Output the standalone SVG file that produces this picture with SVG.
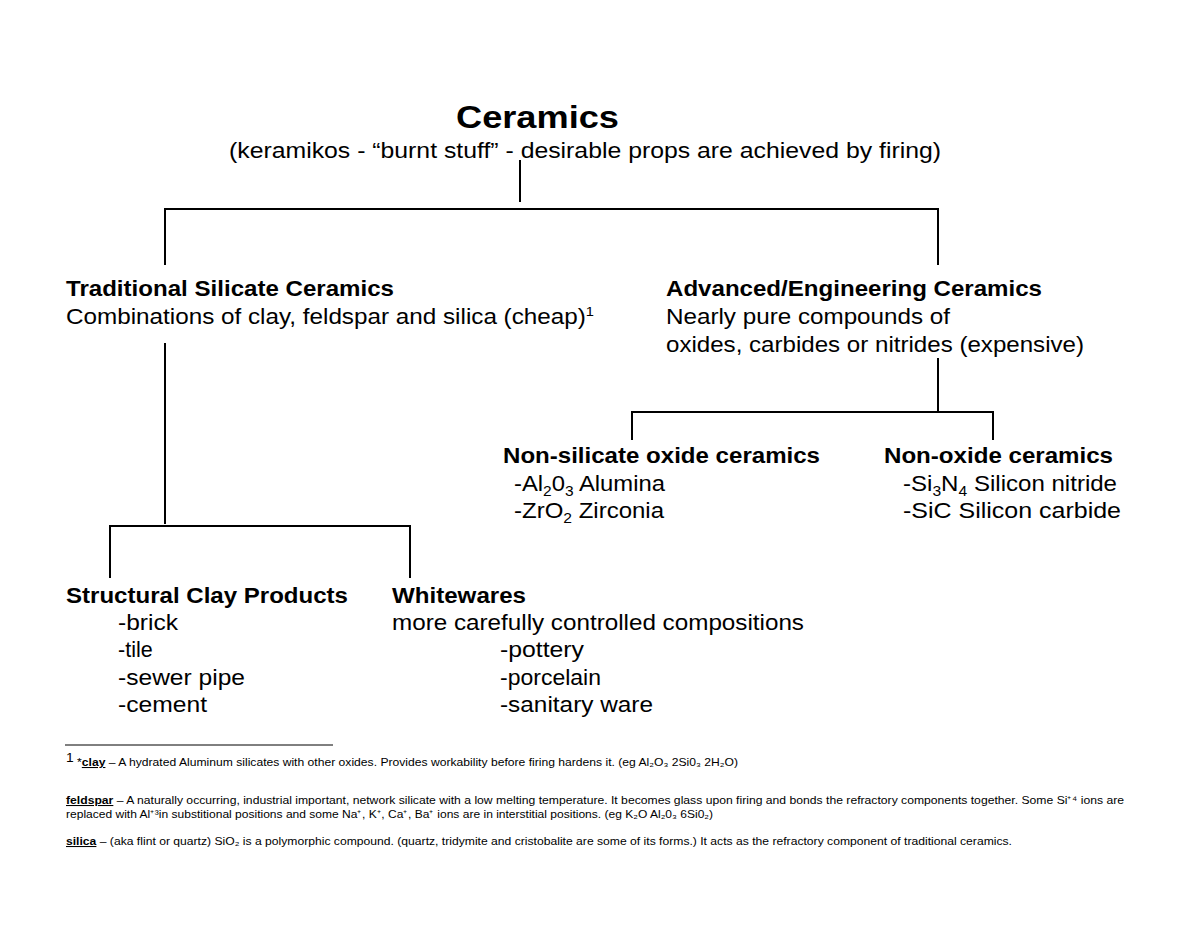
<svg xmlns="http://www.w3.org/2000/svg" width="1200" height="927" viewBox="0 0 1200 927">
<style>
text{font-family:"Liberation Sans",Arial,sans-serif;fill:#000}
.m{font-size:21.5px}
.b{font-weight:bold}
.f{font-size:10.5px}
#connectors line{stroke:#000;stroke-width:2}
</style>
<rect width="1200" height="927" fill="#fff"/>
<g id="connectors">
<line x1="520" y1="160" x2="520" y2="202"/>
<line x1="164" y1="209" x2="939" y2="209"/>
<line x1="165" y1="208" x2="165" y2="265"/>
<line x1="938" y1="208" x2="938" y2="265"/>
<line x1="165" y1="343" x2="165" y2="524"/>
<line x1="109" y1="526" x2="411" y2="526"/>
<line x1="110" y1="525" x2="110" y2="578"/>
<line x1="410" y1="525" x2="410" y2="578"/>
<line x1="938" y1="358" x2="938" y2="412"/>
<line x1="631" y1="412" x2="994" y2="412"/>
<line x1="632" y1="411" x2="632" y2="440"/>
<line x1="993" y1="411" x2="993" y2="440"/>
</g>
<g id="root">
<text x="456" y="128" class="b" font-size="32" textLength="163" lengthAdjust="spacingAndGlyphs">Ceramics</text>
<text x="229" y="158" class="m" textLength="712" lengthAdjust="spacingAndGlyphs">(keramikos - “burnt stuff” - desirable props are achieved by firing)</text>
</g>
<g id="traditional">
<text x="66" y="296" class="m b" textLength="328" lengthAdjust="spacingAndGlyphs">Traditional Silicate Ceramics</text>
<text x="66" y="324" class="m" textLength="528" lengthAdjust="spacingAndGlyphs">Combinations of clay, feldspar and silica (cheap)<tspan font-size="13" dy="-8">1</tspan></text>
</g>
<g id="advanced">
<text x="666" y="296" class="m b" textLength="376" lengthAdjust="spacingAndGlyphs">Advanced/Engineering Ceramics</text>
<text x="666" y="324" class="m" textLength="284" lengthAdjust="spacingAndGlyphs">Nearly pure compounds of</text>
<text x="666" y="352" class="m" textLength="418" lengthAdjust="spacingAndGlyphs">oxides, carbides or nitrides (expensive)</text>
</g>
<g id="nonsilicate">
<text x="503" y="463" class="m b" textLength="317" lengthAdjust="spacingAndGlyphs">Non-silicate oxide ceramics</text>
<text x="514" y="491" class="m" textLength="151" lengthAdjust="spacingAndGlyphs">-Al<tspan font-size="14" dy="5">2</tspan><tspan dy="-5">0</tspan><tspan font-size="14" dy="5">3</tspan><tspan dy="-5"> Alumina</tspan></text>
<text x="514" y="518" class="m" textLength="150" lengthAdjust="spacingAndGlyphs">-ZrO<tspan font-size="14" dy="5">2</tspan><tspan dy="-5"> Zirconia</tspan></text>
</g>
<g id="nonoxide">
<text x="884" y="463" class="m b" textLength="229" lengthAdjust="spacingAndGlyphs">Non-oxide ceramics</text>
<text x="903" y="491" class="m" textLength="214" lengthAdjust="spacingAndGlyphs">-Si<tspan font-size="14" dy="5">3</tspan><tspan dy="-5">N</tspan><tspan font-size="14" dy="5">4</tspan><tspan dy="-5"> Silicon nitride</tspan></text>
<text x="903" y="518" class="m" textLength="218" lengthAdjust="spacingAndGlyphs">-SiC  Silicon carbide</text>
</g>
<g id="structural">
<text x="66" y="603" class="m b" textLength="282" lengthAdjust="spacingAndGlyphs">Structural Clay Products</text>
<text x="118" y="630" class="m" textLength="60" lengthAdjust="spacingAndGlyphs">-brick</text>
<text x="118" y="657" class="m">-tile</text>
<text x="118" y="685" class="m" textLength="127" lengthAdjust="spacingAndGlyphs">-sewer pipe</text>
<text x="118" y="712" class="m" textLength="89" lengthAdjust="spacingAndGlyphs">-cement</text>
</g>
<g id="whitewares">
<text x="392" y="603" class="m b" textLength="134" lengthAdjust="spacingAndGlyphs">Whitewares</text>
<text x="392" y="630" class="m" textLength="412" lengthAdjust="spacingAndGlyphs">more carefully controlled compositions</text>
<text x="500" y="657" class="m" textLength="84" lengthAdjust="spacingAndGlyphs">-pottery</text>
<text x="500" y="685" class="m" textLength="101" lengthAdjust="spacingAndGlyphs">-porcelain</text>
<text x="500" y="712" class="m" textLength="153" lengthAdjust="spacingAndGlyphs">-sanitary ware</text>
</g>
<g id="footnotes">
<line x1="65" y1="745" x2="333" y2="745" stroke="#000" stroke-width="1"/>
<text x="66" y="766" class="f" textLength="672" lengthAdjust="spacingAndGlyphs"><tspan font-size="12" dy="-4">1</tspan><tspan dy="4"> *</tspan><tspan font-weight="bold" text-decoration="underline">clay</tspan> – A hydrated Aluminum silicates with other oxides.  Provides workability before firing hardens it.  (eg Al₂O₃ 2Si0₃ 2H₂O)</text>
<text x="66" y="804" class="f" textLength="1058" lengthAdjust="spacingAndGlyphs"><tspan font-weight="bold" text-decoration="underline">feldspar</tspan> – A naturally occurring, industrial important, network silicate with a low melting temperature.  It becomes glass upon firing and bonds the refractory components together.  Some Si⁺⁴ ions are</text>
<text x="66" y="818" class="f" textLength="647" lengthAdjust="spacingAndGlyphs">replaced with Al⁺³in substitional positions and some Na⁺, K⁺, Ca⁺, Ba⁺ ions are in interstitial positions.  (eg K₂O Al₂0₃ 6Si0₂)</text>
<text x="66" y="845" class="f" textLength="946" lengthAdjust="spacingAndGlyphs"><tspan font-weight="bold" text-decoration="underline">silica</tspan> – (aka flint or quartz) SiO₂ is a polymorphic compound. (quartz, tridymite and cristobalite are some of its forms.)  It acts as the refractory component of traditional ceramics.</text>
</g>
</svg>
